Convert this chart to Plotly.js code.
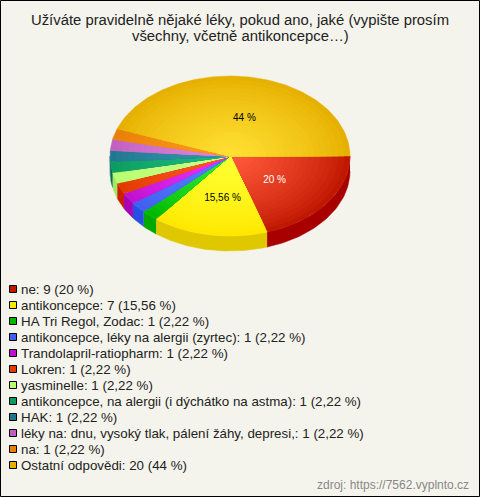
<!DOCTYPE html>
<html><head><meta charset="utf-8">
<script src="https://cdn.plot.ly/plotly-3.0.1.min.js"></script>
<style>html,body{margin:0;padding:0;background:#f4f4ec}#c{width:480px;height:497px}</style>
</head><body><div id="c"></div>
<script>
const categories = ["ne","antikoncepce","HA Tri Regol, Zodac","antikoncepce, léky na alergii (zyrtec)","Trandolapril-ratiopharm","Lokren","yasminelle","antikoncepce, na alergii (i dýchátko na astma)","HAK","léky na: dnu, vysoký tlak, pálení žáhy, depresi,","na","Ostatní odpovědi"];
const counts = [9,7,1,1,1,1,1,1,1,1,1,20];
const percents = ["20","15,56","2,22","2,22","2,22","2,22","2,22","2,22","2,22","2,22","2,22","44"];
const centerColors = ["#ff5a3c","#ffff33","#33ee33","#5580ff","#ee33ff","#ff5a28","#ccff88","#22bb80","#3399aa","#e088e0","#ff9922","#ffe033"];
const edgeColors = ["#c01800","#ffe800","#00b800","#4060f0","#c010d0","#e03c00","#b8ff70","#0c9c60","#207890","#c060c0","#e88008","#e6b000"];
const sideColors = ["#a80000","#e0c800","#00a800","#2850e0","#a800b8","#c82000","#a0e860","#007048","#105870","#a04aa0","#c86800","#c89800"];
const legendColors = edgeColors;
const titleLines = ["Užíváte pravidelně nějaké léky, pokud ano, jaké (vypište prosím","všechny, včetně antikoncepce…)"];
const pieLabels = {0:"#ffffff",1:"#000000",11:"#000000"};
const labelNudgePx = {0:[-4,1],1:[3,3],11:[4,2]};

const W=480,H=497,CX=230,CY=156,A=120,B=80,DEPTH=15,BANDS=20;
const FONT='Liberation Sans, Arial';
const xr=[-CX/A,(W-CX)/A], yr=[(H-CY)/B*-1,CY/B];
const hex=c=>[1,3,5].map(i=>parseInt(c.substr(i,2),16));
const mix=(a,b,t)=>{const p=hex(a),q=hex(b);return 'rgb('+p.map((v,i)=>Math.round(v+(q[i]-v)*t)).join(',')+')';};
const total=counts.reduce((a,b)=>a+b,0);
let traces=[];
const arc=(a0,a1,r,dy)=>{const n=Math.max(2,Math.ceil((a1-a0)/1.5));const xs=[],ys=[];
  for(let i=0;i<=n;i++){const t=(a0+(a1-a0)*i/n)*Math.PI/180;xs.push(r*Math.cos(t));ys.push(-r*Math.sin(t)-dy);}return [xs,ys];};
const base={type:'scatter',mode:'lines',fill:'toself',hoverinfo:'skip',showlegend:false,line:{width:0}};
let a=0;const angles=counts.map(v=>{const s=a;a+=v/total*360;return [s,a];});
const dy=DEPTH/B;
angles.forEach(([s,e],i)=>{const a0=Math.max(s,0),a1=Math.min(e,180);if(a1<=a0)return;
  const [x1,y1]=arc(a0,a1,1,0),[x2,y2]=arc(a0,a1,1,dy);
  traces.push({...base,x:x1.concat(x2.reverse()),y:y1.concat(y2.reverse()),fillcolor:sideColors[i],line:{width:0.5,color:sideColors[i]}});});
angles.forEach(([s,e],i)=>{for(let k=0;k<BANDS;k++){const r=1-k/BANDS,t=k/(BANDS-1);
  const [x,y]=arc(s,e,r,0);const col=mix(edgeColors[i],centerColors[i],Math.pow(t,0.8));
  traces.push({...base,x:[0].concat(x,[0]),y:[0].concat(y,[0]),fillcolor:col,line:{width:0.5,color:col}});}});
const lx=[],ly=[],lt=[],lc=[];
Object.keys(pieLabels).forEach(k=>{const [s,e]=angles[k];const m=(s+e)/2*Math.PI/180;const n=labelNudgePx[k];
  lx.push(0.5*Math.cos(m)+n[0]/A);ly.push(-0.5*Math.sin(m)-n[1]/B);lt.push(percents[k]+' %');lc.push(pieLabels[k]);});
traces.push({type:'scatter',mode:'text',x:lx,y:ly,text:lt,textposition:'middle center',textfont:{family:FONT,size:10,color:lc},hoverinfo:'skip',showlegend:false});

const LEG_TOP=289.5,LEG_STEP=16;
const px=v=>v/W,py=v=>1-v/H;
const annotations=categories.map((c,i)=>({xref:'paper',yref:'paper',x:px(20),y:py(LEG_TOP+i*LEG_STEP),xanchor:'left',yanchor:'middle',showarrow:false,align:'left',
  text:c+': '+counts[i]+' ('+percents[i]+' %)',font:{family:FONT,size:13.33,color:'#222222'},borderpad:0}));
annotations.push({xref:'paper',yref:'paper',x:px(470),y:py(485),xanchor:'right',yanchor:'middle',showarrow:false,text:'zdroj: https://7562.vyplnto.cz',font:{family:FONT,size:12,color:'#888888'},borderpad:0});
annotations.push({xref:'paper',yref:'paper',x:px(240),y:py(36),xanchor:'center',yanchor:'middle',showarrow:false,text:titleLines[1],font:{family:FONT,size:14.85,color:'#222222'},borderpad:0});
const shapes=categories.map((c,i)=>({type:'rect',xref:'paper',yref:'paper',x0:px(9.5),x1:px(16.5),y0:py(LEG_TOP+i*LEG_STEP-4),y1:py(LEG_TOP+i*LEG_STEP+3),fillcolor:legendColors[i],line:{color:'#000000',width:1}}));
shapes.push({type:'rect',xref:'paper',yref:'paper',x0:px(0.5),x1:px(479.5),y0:py(0.5),y1:py(496.5),fillcolor:'rgba(0,0,0,0)',line:{color:'#000000',width:1}});

Plotly.newPlot('c',traces,{width:W,height:H,margin:{l:0,r:0,t:0,b:0,pad:0},paper_bgcolor:'#f4f4ec',plot_bgcolor:'#f4f4ec',showlegend:false,
  title:{text:titleLines[0],font:{family:FONT,size:14.85,color:'#222222'},x:0.5,xanchor:'center',y:1-20/H,yanchor:'middle'},
  xaxis:{range:xr,visible:false,fixedrange:true},yaxis:{range:yr,visible:false,fixedrange:true},annotations,shapes},{displayModeBar:false,staticPlot:true});
</script></body></html>
